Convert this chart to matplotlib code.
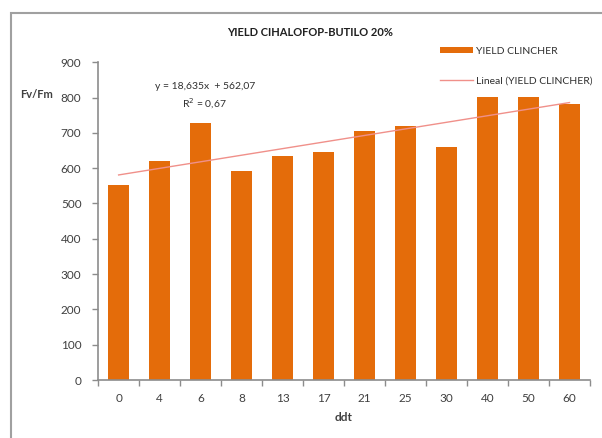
import numpy as np
import matplotlib
matplotlib.use('Agg')
import matplotlib.pyplot as plt
from matplotlib.patches import Rectangle
from matplotlib.lines import Line2D
from matplotlib.patches import Patch

# Data
ddt = ['0', '4', '6', '8', '13', '17', '21', '25', '30', '40', '50', '60']
yield_clincher = [552, 620, 727, 592, 634, 645, 705, 719, 660, 801, 801, 781]

# Trendline from the chart label: y = 18,635x + 562,07
slope = 18.635
intercept = 562.07

plt.rcParams['font.family'] = ['Lato', 'DejaVu Sans']
plt.rcParams['font.size'] = 8.5

orange = '#E46C0A'
trend_color = '#F0908A'
axis_gray = '#8C8C8C'

fig = plt.figure(figsize=(6.02, 4.38), dpi=100)
ax = fig.add_axes([0.163, 0.1324, 0.817, 0.7256])

x = np.arange(len(ddt))
ax.bar(x, yield_clincher, width=0.5, color=orange, zorder=2)
xi = np.arange(1, len(ddt) + 1)
ax.plot(x, slope * xi + intercept, color=trend_color, linewidth=1, zorder=3)

ax.set_xlim(-0.5, len(ddt) - 0.5)
ax.set_ylim(0, 900)
ax.set_yticks(range(0, 901, 100))
ax.set_xticks(x)
ax.set_xticklabels(ddt)
ax.set_xticks(np.arange(-0.5, len(ddt), 1), minor=True)
ax.tick_params(axis='x', which='major', length=0, pad=9, colors='#404040')
ax.tick_params(axis='x', which='minor', length=4, color=axis_gray, width=1)
ax.tick_params(axis='y', length=4, color=axis_gray, width=1, pad=8, colors='#404040')

for s in ['top', 'right']:
    ax.spines[s].set_visible(False)
ax.spines['left'].set_color(axis_gray)
ax.spines['bottom'].set_color(axis_gray)
ax.spines['left'].set_linewidth(1.2)
ax.spines['bottom'].set_linewidth(1.2)

ax.set_xlabel('ddt', fontweight='bold', fontsize=8.5, color='#404040', labelpad=6)
fig.text(0.033, 0.785, 'Fv/Fm', fontweight='bold', fontsize=8, color='#404040', va='center')
fig.text(0.515, 0.925, 'YIELD CIHALOFOP-BUTILO 20%', fontweight='bold', fontsize=8,
         ha='center', va='center', color='#202020')

fig.text(0.34, 0.802, 'y = 18,635x  + 562,07', fontsize=7.5, ha='center', va='center', color='#303030')
fig.text(0.34, 0.762, 'R$^2$ = 0,67', fontsize=7.5, ha='center', va='center', color='#303030')

handles = [Patch(facecolor=orange, edgecolor='none'),
           Line2D([0], [0], color=trend_color, linewidth=1)]
fig.legend(handles, ['YIELD CLINCHER', 'Lineal (YIELD CLINCHER)'],
           loc='upper left', bbox_to_anchor=(0.715, 0.915), frameon=False,
           fontsize=7.5, handlelength=3.2, handleheight=0.6, handletextpad=0.3,
           labelspacing=2.0, labelcolor='#303030')

# outer chart border
fig.add_artist(Rectangle((0.018, -0.05), 1.1, 1.02, transform=fig.transFigure,
                         fill=False, edgecolor='#A0A0A0', linewidth=1.5, clip_on=False))

fig.savefig('out.png', dpi=100)
